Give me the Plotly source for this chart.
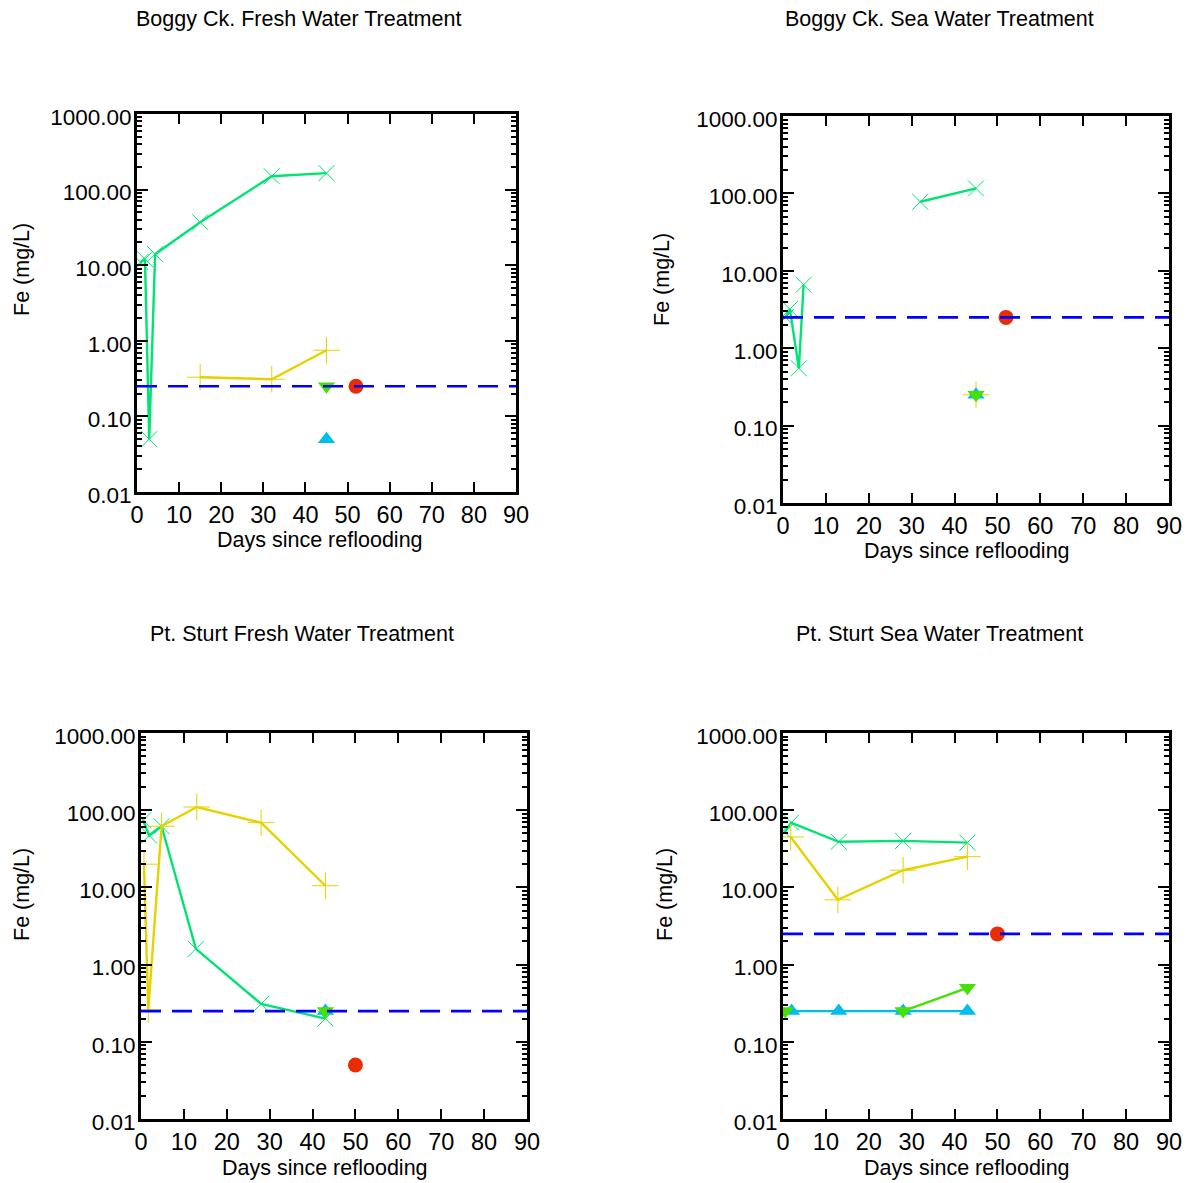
import plotly.graph_objects as go

# ---------------- data ----------------
TITLES = ["Boggy Ck. Fresh Water Treatment", "Boggy Ck. Sea Water Treatment",
          "Pt. Sturt Fresh Water Treatment", "Pt. Sturt Sea Water Treatment"]
X_LABEL = "Days since reflooding"
Y_LABEL = "Fe (mg/L)"
Y_TICK_VALS = [0.01, 0.1, 1, 10, 100, 1000]
Y_TICK_TEXT = ["0.01", "0.10", "1.00", "10.00", "100.00", "1000.00"]
X_TICK_VALS = [0, 10, 20, 30, 40, 50, 60, 70, 80, 90]

# Panel 1: Boggy Ck. Fresh
p1_green_x_days = [0.8, 1.9, 2.9, 4.3, 15, 32, 45]
p1_green_x_vals = [11, 12, 0.05, 14, 37, 150, 165]
p1_yellow_days = [15, 32, 45]
p1_yellow_vals = [0.33, 0.31, 0.75]
p1_cyan_days = [45]
p1_cyan_vals = [0.05]
p1_lime_days = [45]
p1_lime_vals = [0.25]
p1_red_days = [52]
p1_red_vals = [0.25]
p1_ref_level = 0.25

# Panel 2: Boggy Ck. Sea
p2_green_x_days = [0.6, 1.6, 3.7, 4.8, None, 32, 45]
p2_green_x_vals = [2.5, 3.2, 0.55, 6.6, None, 78, 116]
p2_yellow_days = [45]
p2_yellow_vals = [0.25]
p2_cyan_days = [45]
p2_cyan_vals = [0.25]
p2_lime_days = [45]
p2_lime_vals = [0.25]
p2_red_days = [52]
p2_red_vals = [2.5]
p2_ref_level = 2.5

# Panel 3: Pt. Sturt Fresh
p3_green_x_days = [0.5, 1.9, 4.8, 12.8, 28, 43]
p3_green_x_vals = [74, 47, 62, 1.6, 0.31, 0.20]
p3_yellow_days = [0.7, 1.7, 4.8, 13, 28, 43]
p3_yellow_vals = [20, 0.26, 62, 110, 69, 10.5]
p3_cyan_days = [43]
p3_cyan_vals = [0.25]
p3_lime_days = [43]
p3_lime_vals = [0.25]
p3_red_days = [50]
p3_red_vals = [0.05]
p3_ref_level = 0.25

# Panel 4: Pt. Sturt Sea
p4_green_x_days = [0.4, 1.9, 13, 28, 43]
p4_green_x_vals = [52, 69, 39, 40, 38]
p4_yellow_days = [1.8, 12.8, 28, 43]
p4_yellow_vals = [45, 6.9, 16.7, 25]
p4_cyan_days = [2, 13, 28, 43]
p4_cyan_vals = [0.25, 0.25, 0.25, 0.25]
p4_lime_days = [0.5, None, 28, 43]
p4_lime_vals = [0.25, None, 0.25, 0.5]
p4_red_days = [50]
p4_red_vals = [2.5]
p4_ref_level = 2.5

PANELS = [
    (p1_green_x_days, p1_green_x_vals, p1_yellow_days, p1_yellow_vals, p1_cyan_days, p1_cyan_vals,
     p1_lime_days, p1_lime_vals, p1_red_days, p1_red_vals, p1_ref_level),
    (p2_green_x_days, p2_green_x_vals, p2_yellow_days, p2_yellow_vals, p2_cyan_days, p2_cyan_vals,
     p2_lime_days, p2_lime_vals, p2_red_days, p2_red_vals, p2_ref_level),
    (p3_green_x_days, p3_green_x_vals, p3_yellow_days, p3_yellow_vals, p3_cyan_days, p3_cyan_vals,
     p3_lime_days, p3_lime_vals, p3_red_days, p3_red_vals, p3_ref_level),
    (p4_green_x_days, p4_green_x_vals, p4_yellow_days, p4_yellow_vals, p4_cyan_days, p4_cyan_vals,
     p4_lime_days, p4_lime_vals, p4_red_days, p4_red_vals, p4_ref_level),
]

# ---------------- layout geometry (window pixels) ----------------
W, H = 1196, 1183
FRAMES = [(137, 516, 114, 492), (783, 1169, 116, 503), (141, 527, 733, 1119), (783, 1169, 733, 1119)]
TITLE_POS = [(298, 19), (939, 19), (302, 634), (939, 634)]
YLAB_POS = [(22, 270), (662, 280), (22, 895), (665, 895)]
XLAB_POS = [(320, 540), (967, 551), (325, 1168), (967, 1168)]


def px(x):
    return x / W


def py(y):
    return 1 - y / H


GREEN = "rgb(0,228,115)"
YELLOW = "rgb(230,210,0)"
CYAN = "rgb(0,190,235)"
LIME = "rgb(70,225,0)"
RED = "rgb(232,45,5)"
BLUE = "rgb(0,0,255)"
FONT = "Liberation Sans, Arial, Helvetica, sans-serif"

fig = go.Figure()

for i, (gx, gy, yx, yy, cx, cy, lx, ly, rx, ry, ref) in enumerate(PANELS):
    n = "" if i == 0 else str(i + 1)
    xa, ya = "x" + n, "y" + n
    fig.add_trace(go.Scatter(x=gx, y=gy, xaxis=xa, yaxis=ya, mode="lines+markers",
                             line=dict(color=GREEN, width=2.4),
                             marker=dict(symbol="x-thin", size=16, line=dict(color=GREEN, width=1)),
                             showlegend=False))
    fig.add_trace(go.Scatter(x=yx, y=yy, xaxis=xa, yaxis=ya, mode="lines+markers",
                             line=dict(color=YELLOW, width=2.4),
                             marker=dict(symbol="cross-thin", size=19, line=dict(color=YELLOW, width=1)),
                             showlegend=False))
    fig.add_trace(go.Scatter(x=cx, y=cy, xaxis=xa, yaxis=ya, mode="lines+markers",
                             line=dict(color=CYAN, width=2.4),
                             marker=dict(symbol="triangle-up", size=15, color=CYAN),
                             showlegend=False))
    fig.add_trace(go.Scatter(x=lx, y=ly, xaxis=xa, yaxis=ya, mode="lines+markers",
                             line=dict(color=LIME, width=2.4),
                             marker=dict(symbol="triangle-down", size=15, color=LIME),
                             showlegend=False))
    fig.add_trace(go.Scatter(x=rx, y=ry, xaxis=xa, yaxis=ya, mode="markers",
                             marker=dict(symbol="circle", size=15, color=RED),
                             showlegend=False))
    fig.add_trace(go.Scatter(x=[X_TICK_VALS[0], X_TICK_VALS[-1]], y=[ref, ref], xaxis=xa, yaxis=ya,
                             mode="lines", line=dict(color=BLUE, width=2.6, dash="20px,11px"),
                             showlegend=False))

    x0, x1, y0, y1 = FRAMES[i]
    fig.layout["xaxis" + n] = dict(
        domain=[px(x0), px(x1)], anchor=ya, range=[X_TICK_VALS[0], X_TICK_VALS[-1]], automargin=False,
        tickmode="array", tickvals=X_TICK_VALS, ticks="inside", ticklen=10, tickwidth=2,
        tickcolor="black", showline=True, linecolor="black", linewidth=2.8, mirror="allticks",
        showgrid=False, zeroline=False, tickfont=dict(family=FONT, size=23.5, color="black"),
        ticklabelstandoff=0,
    )
    fig.layout["yaxis" + n] = dict(
        domain=[py(y1), py(y0)], anchor=xa, type="log", range=[-2, 3], automargin=False,
        tickmode="array", tickvals=Y_TICK_VALS, ticktext=Y_TICK_TEXT,
        ticks="inside", ticklen=11, tickwidth=2, tickcolor="black",
        minor=dict(ticks="inside", ticklen=5, tickwidth=2, tickcolor="black", dtick="D1", showgrid=False),
        showline=True, linecolor="black", linewidth=2.8, mirror="allticks",
        showgrid=False, zeroline=False, tickfont=dict(family=FONT, size=22.5, color="black"),
        ticklabelstandoff=-2, ticklabelshift=3,
    )

annotations = []
for i in range(4):
    tx, ty = TITLE_POS[i]
    annotations.append(dict(text=TITLES[i], x=px(tx), y=py(ty), xref="paper", yref="paper",
                            showarrow=False, xanchor="center", yanchor="middle",
                            font=dict(family=FONT, size=21.5, color="black")))
    lx_, ly_ = YLAB_POS[i]
    annotations.append(dict(text=Y_LABEL, x=px(lx_), y=py(ly_), xref="paper", yref="paper",
                            showarrow=False, xanchor="center", yanchor="middle", textangle=-90,
                            font=dict(family=FONT, size=21.5, color="black")))
    bx, by = XLAB_POS[i]
    annotations.append(dict(text=X_LABEL, x=px(bx), y=py(by), xref="paper", yref="paper",
                            showarrow=False, xanchor="center", yanchor="middle",
                            font=dict(family=FONT, size=21.5, color="black")))

fig.update_layout(width=W, height=H, margin=dict(l=0, r=0, t=0, b=0, autoexpand=False),
                  paper_bgcolor="white", plot_bgcolor="white", annotations=annotations,
                  showlegend=False)

# remove the page's default 8px body margin so the 1196x1183 figure fills the window exactly
fig.write_html("out.html", config={"displayModeBar": False},
               post_script="document.body.style.margin='0px';document.body.style.overflow='hidden';")
